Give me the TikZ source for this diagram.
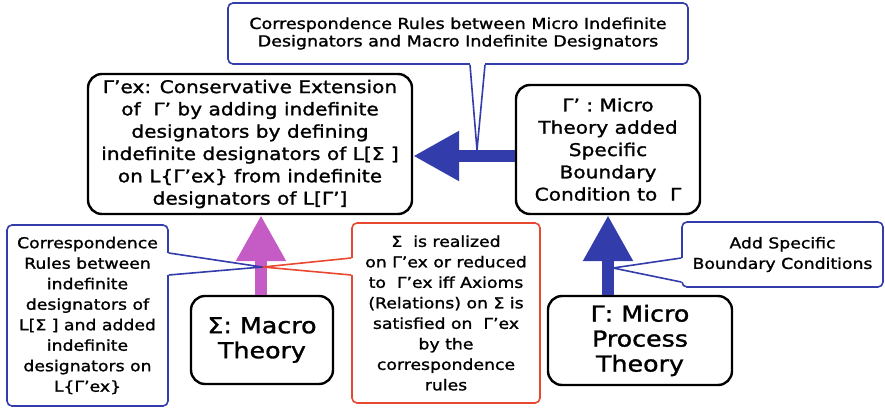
\documentclass[tikz,border=0pt]{standalone}
\usepackage{fontspec}
\setmainfont{DejaVu Sans}[FakeStretch=1.15,FakeBold=1.3]
\definecolor{main}{RGB}{50,60,170}
\definecolor{second}{RGB}{232,72,48}
\definecolor{third}{RGB}{197,92,197}
\usetikzlibrary{
	arrows.meta,
	calc
}
\tikzset{
  % node
	thnode/.style    ={draw=black,fill=white,line width=2.4pt,rounded corners=14pt,align=center,inner sep=0pt},
	thtext/.style    ={font=\fontsize{17.5}{22.3}\selectfont},
	thbig/.style     ={font=\fontsize{22}{25}\selectfont},
	callnode/.style  ={draw=main,fill=white,line width=1.6pt,rounded corners=5pt,align=center,inner sep=0pt,font=\fontsize{15}{20.5}\selectfont},
	callnode2/.style ={callnode,draw=second},
  % arrow
	thra/.style      ={-{Triangle[length=46pt,width=47pt]},line width=12pt}, % thick arrow
  % pointer
	ptrfill/.style   ={fill=white},
	ptrline/.style   ={line width=1.6pt,line join=miter}
}

\begin{document}
\begin{tikzpicture}[x=1pt,y=-1pt]
	\useasboundingbox (0,0) rectangle (885,409);
	% theories
	\node[thnode,thtext,minimum width=324pt,minimum height=140pt] (gex) at (250,144)
		{Γ’ex: Conservative Extension\\of\ \ Γ’ by adding indefinite\\designators by defining\\indefinite designators of L[Σ ]\\on L\{Γ’ex\} from indefinite\\designators of L[Γ’]};
	\node[thnode,thtext,minimum width=184pt,minimum height=129pt] (gp) at (608,149.5)
		{Γ’ : Micro\\Theory added\\Specific\\Boundary\\Condition to\ \ Γ};
	\node[thnode,thbig,minimum width=142pt,minimum height=88pt] (sig) at (262,340)
		{Σ: Macro\\Theory};
	\node[thnode,thbig,minimum width=184pt,minimum height=89pt] (gam) at (640,340.5)
		{Γ: Micro\\Process\\Theory};
	% callouts
	\node[callnode,minimum width=460pt,minimum height=61pt,font=\fontsize{15.2}{17.5}\selectfont] (tcall) at (458,33.5)
		{Correspondence Rules between Micro Indefinite\\Designators and Macro Indefinite Designators};
	\node[callnode,minimum width=161pt,minimum height=181pt] (lcall) at (87.5,315.5)
		{Correspondence\\Rules between\\indefinite\\designators of\\L[Σ ] and added\\indefinite\\designators on\\L\{Γ’ex\}};
	\node[callnode2,minimum width=188pt,minimum height=180pt] (mcall) at (446,313)
		{Σ\ \ is realized\\on Γ’ex or reduced\\to\ \ Γ’ex iff Axioms\\(Relations) on Σ is\\satisfied on\ \ Γ’ex\\by the\\correspondence\\rules};
	\node[callnode,minimum width=201pt,minimum height=65pt] (rcall) at (782.5,254.5)
		{Add Specific\\Boundary Conditions};
	% pointer ends
	\coordinate (tt) at (477,150);
	\coordinate (lt) at (262,267);
	\coordinate (mt) at (263,267);
	\coordinate (rt) at (613,268);
	\coordinate (ta) at (tcall.south -| 470,0);
	\coordinate (tb) at (tcall.south -| 485,0);
	\coordinate (la) at (lcall.east |- 0,253);
	\coordinate (lb) at (lcall.east |- 0,275);
	\coordinate (ma) at (mcall.west |- 0,258);
	\coordinate (mb) at (mcall.west |- 0,275);
	\coordinate (ra) at (rcall.west |- 0,258);
	\coordinate (rb) at (rcall.west |- 0,282);
	\fill[ptrfill] ($(ta)+(0,-2)$) -- (tt) -- ($(tb)+(0,-2)$) -- cycle;
	\fill[ptrfill] ($(la)+(-2,0)$) -- (lt) -- ($(lb)+(-2,0)$) -- cycle;
	\fill[ptrfill] ($(ma)+(2,0)$) -- (mt) -- ($(mb)+(2,0)$) -- cycle;
	\fill[ptrfill] ($(ra)+(2,0)$) -- (rt) -- ($(rb)+(2,0)$) -- cycle;
	% arrows
	\coordinate (hs) at ($(gp.west)+(0,6.5)$);
	\draw[thra,main] (hs) -- (hs -| gex.east);
	\draw[thra,third] (sig.north -| 261,0) -- (gex.south -| 261,0);
	\draw[thra,main] (gam.north -| gp.south) -- (gp.south);
	% pointers
	\draw[ptrline,main] (ta) -- (tt) -- (tb);
	\draw[ptrline,main] (la) -- (lt) -- (lb);
	\draw[ptrline,second] (ma) -- (mt) -- (mb);
	\draw[ptrline,main] (ra) -- (rt) -- (rb);
\end{tikzpicture}
\end{document}
